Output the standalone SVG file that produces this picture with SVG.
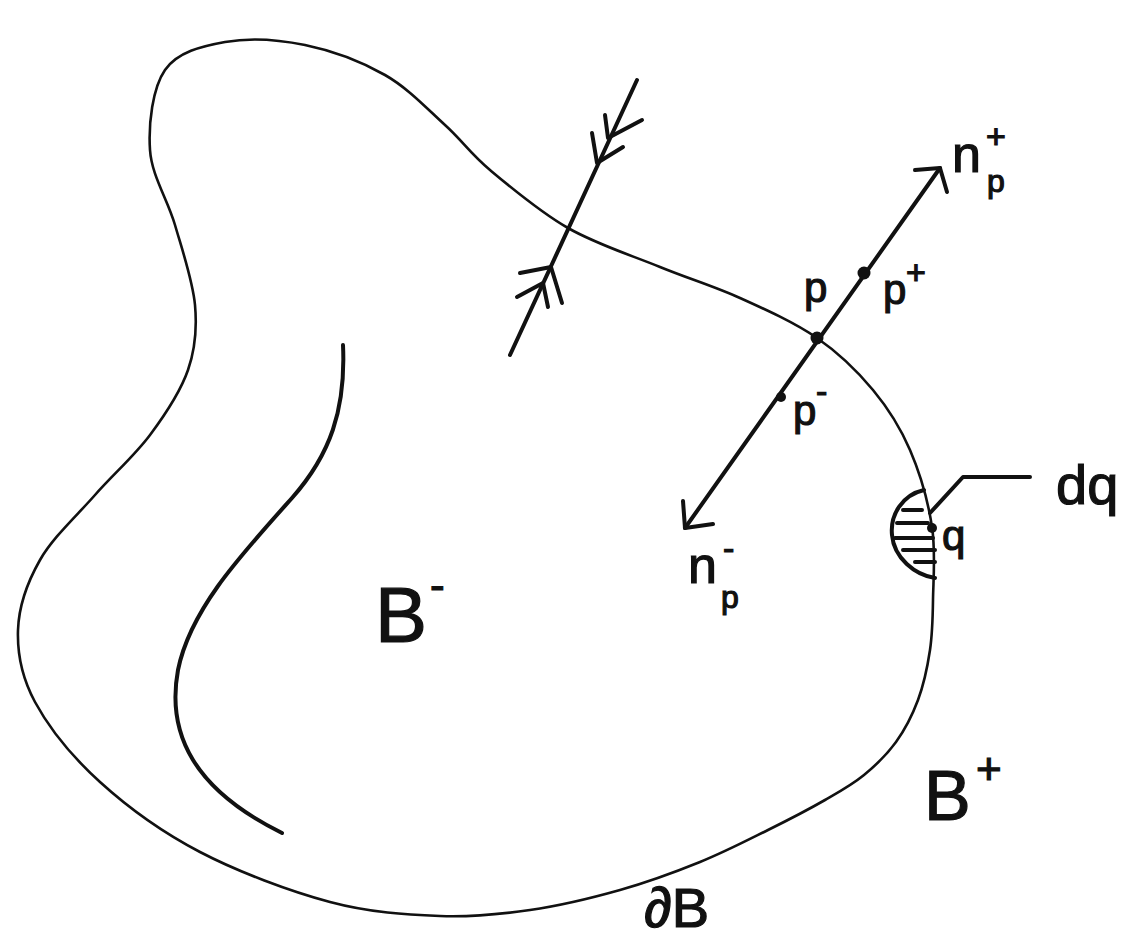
<svg xmlns="http://www.w3.org/2000/svg" width="1128" height="948" viewBox="0 0 1128 948">
<style>
.thin{fill:none;stroke:#111;stroke-width:2.6;stroke-linecap:round;stroke-linejoin:round}
.thick{fill:none;stroke:#111;stroke-width:4;stroke-linecap:round;stroke-linejoin:round}
.dot{fill:#111}
.lbl{font-family:"Liberation Sans","DejaVu Sans",sans-serif;fill:#111;stroke:#111;stroke-width:1.2}
</style>
<rect width="1128" height="948" fill="#fff"/>
<g id="boundary">
<path class="thin" d="M150,150 C148.3,124.2 152.5,88 165,70 C177.5,52 201.7,46.2 225,42 C248.3,37.8 278.3,39.5 305,45 C331.7,50.5 361.7,61.7 385,75 C408.3,88.3 427.5,109.2 445,125 C462.5,140.8 469.5,152.8 490,170 C510.5,187.2 539.7,211.8 568,228 C596.3,244.2 631.3,255.3 660,267 C688.7,278.7 713.8,286.2 740,298 C766.2,309.8 794.8,322.7 817,338 C839.2,353.3 857.5,371.3 873,390 C888.5,408.7 900.2,427.2 910,450 C919.8,472.8 928.2,502 932,527 C935.8,552 933.3,579.5 933,600 C932.7,620.5 932.5,633.3 930,650 C927.5,666.7 923.7,684.7 918,700 C912.3,715.3 905,729.5 896,742 C887,754.5 875.8,765.3 864,775 C852.2,784.7 841,790.8 825,800 C809,809.2 788.8,819.7 768,830 C747.2,840.3 724.7,852 700,862 C675.3,872 648.3,882 620,890 C591.7,898 560,905.7 530,910 C500,914.3 473.3,917.3 440,916 C406.7,914.7 370,912.7 330,902 C290,891.3 238.3,872 200,852 C161.7,832 127.5,807 100,782 C72.5,757 48.7,727.3 35,702 C21.3,676.7 17.2,653.7 18,630 C18.8,606.3 27.2,582.5 40,560 C52.8,537.5 76.7,515.8 95,495 C113.3,474.2 134.5,455.8 150,435 C165.5,414.2 180.5,391.7 188,370 C195.5,348.3 197.2,329.2 195,305 C192.8,280.8 182.5,250.8 175,225 C167.5,199.2 151.7,175.8 150,150 Z"/>
</g>
<g id="inner-curve">
<path class="thick" stroke-width="3.5" d="M343,345 C346,410 330,455 292,498 C240,556 190,610 178,670 C166,735 195,790 282,833"/>
</g>
<g id="crossing-line">
<path class="thick" d="M510,355 L637,80"/>
<path class="thick" d="M605,115 L608,138 L642,120 M592,133 L597,163 L623,147"/>
<path class="thick" d="M520,273 L551,267 L562,303 M517,297 L543,283 L548,307"/>
</g>
<g id="normal-line">
<path class="thick" d="M685,528 L940,168"/>
<path class="thick" d="M915,170 L940,168 L947,192"/>
<path class="thick" d="M683,501 L685,528 L713,524"/>
<circle class="dot" cx="817" cy="338" r="6.5"/>
<circle class="dot" cx="864" cy="273" r="6.5"/>
<circle class="dot" cx="781" cy="397" r="5"/>
</g>
<g id="surface-element">
<path class="thick" d="M924,490 C902,495 890,515 892,535 C894,558 915,575 935,578"/>
<path class="thick" stroke-width="3" d="M903,510 L922,510 M897,523 L928,523 M895,538 L933,538 M903,550 L935,550 M915,562 L935,562"/>
<circle class="dot" cx="932" cy="528" r="5"/>
<path class="thick" d="M1030,477 L963,477 L930,513"/>
</g>
<g id="labels">
<text class="lbl" x="804" y="302" font-size="42">p</text>
<text class="lbl" x="883" y="304" font-size="42">p</text>
<text class="lbl" x="906" y="284" font-size="34">+</text>
<text class="lbl" x="793" y="425" font-size="42">p</text>
<text class="lbl" x="816" y="403" font-size="34">-</text>
<text class="lbl" x="688" y="583" font-size="52">n</text>
<text class="lbl" x="721" y="608" font-size="32">p</text>
<text class="lbl" x="723" y="560" font-size="34">-</text>
<text class="lbl" x="952" y="172" font-size="52">n</text>
<text class="lbl" x="987" y="192" font-size="32">p</text>
<text class="lbl" x="986" y="148" font-size="34">+</text>
<text class="lbl" x="942" y="550" font-size="42">q</text>
<text class="lbl" x="1056" y="504" font-size="56">dq</text>
<text class="lbl" x="375" y="642" font-size="78">B</text>
<text class="lbl" x="430" y="600" font-size="44">-</text>
<text class="lbl" x="924" y="820" font-size="70">B</text>
<text class="lbl" x="976" y="784" font-size="44">+</text>
<text class="lbl" x="644" y="927" font-size="56">∂B</text>
</g>
</svg>
